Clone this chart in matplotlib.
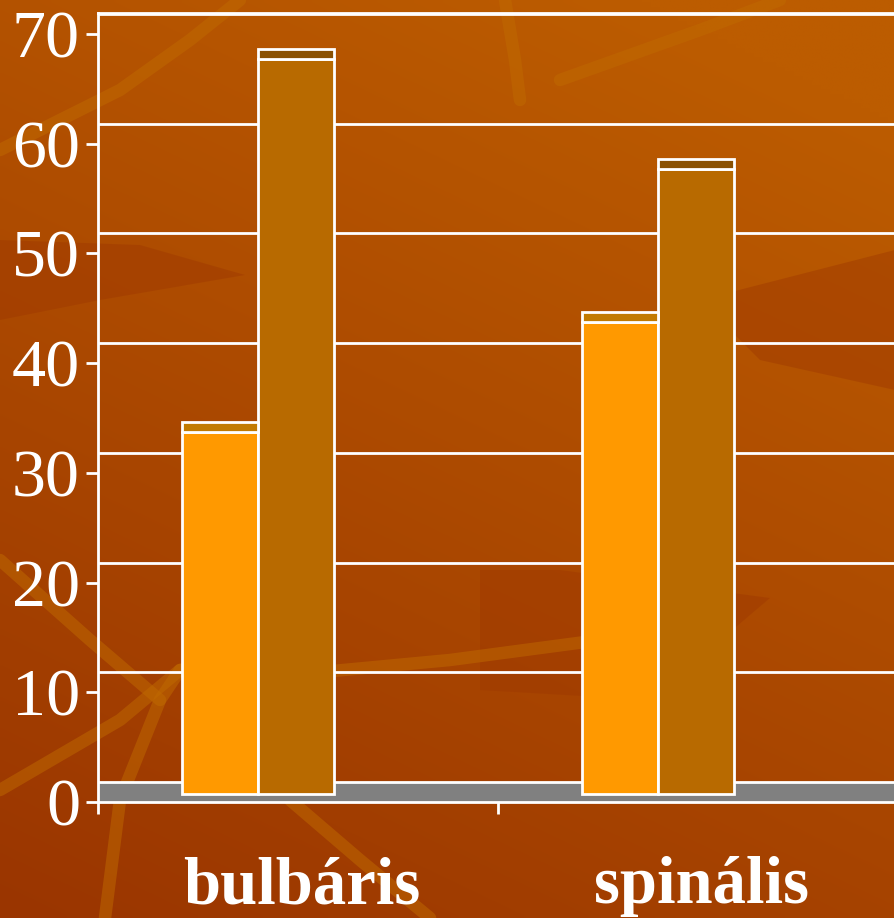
import matplotlib
matplotlib.use("Agg")
import matplotlib.pyplot as plt
import matplotlib.transforms as mtransforms
import numpy as np

# data
categories = ["bulbáris", "spinális"]
series_a = [33, 43]   # orange
series_b = [67, 57]   # brown
yticks = [0, 10, 20, 30, 40, 50, 60, 70]

ORANGE = "#ff9900"
BROWN = "#b86a00"
CAP_A = "#c27a00"
CAP_B = "#8a5000"
FLOOR = "#808080"

W, H = 895, 918
PPU = (802 - 34) / 70.0          # pixels per value unit
WALL_DY = 20                      # depth shift of the back wall (px)
BAR_DY = 8                        # depth shift of bar front faces (px)
CAP_PX = 10                       # visible bar top depth (px)

plt.rcParams["font.family"] = ["Liberation Serif", "DejaVu Serif"]

fig = plt.figure(figsize=(W / 100, H / 100), dpi=100)

# background: brownish orange gradient with a few soft streaks
bg = fig.add_axes([0, 0, 1, 1], zorder=0)
yy, xx = np.mgrid[0:1:200j, 0:1:200j]
t = np.clip(0.75 * yy + 0.35 * (1 - xx) - 0.1, 0, 1)
top = np.array([0xbc, 0x5c, 0x00]) / 255
bot = np.array([0x9a, 0x35, 0x00]) / 255
img = top[None, None, :] * (1 - t[..., None]) + bot[None, None, :] * t[..., None]
bg.imshow(img, extent=[0, W, H, 0], aspect="auto", interpolation="bilinear")
streaks = [
    [(0, 150), (120, 90), (190, 40), (240, 0)],
    [(505, 0), (515, 60), (520, 100)],
    [(560, 80), (700, 30), (780, 0)],
    [(0, 790), (120, 720), (180, 670), (290, 640)],
    [(105, 918), (120, 800), (160, 700), (180, 670)],
    [(290, 800), (360, 860), (430, 918)],
    [(290, 675), (450, 660), (600, 640)],
    [(0, 560), (90, 640), (160, 700)],
]
for s in streaks:
    xs, ys = zip(*s)
    bg.plot(xs, ys, color="#c06a00", lw=9, alpha=0.5, solid_capstyle="round")
darks = [
    [(0, 240), (140, 245), (245, 275), (100, 300), (0, 320)],
    [(480, 570), (560, 570), (770, 598), (650, 700), (480, 690)],
    [(700, 300), (895, 250), (895, 390), (760, 360)],
]
for d in darks:
    xs, ys = zip(*d)
    bg.fill(xs, ys, color="#9e3800", alpha=0.45, lw=0)
bg.set_xlim(0, W)
bg.set_ylim(H, 0)
bg.axis("off")

# chart axes
ax = fig.add_axes([98 / W, (H - 802) / H, 800 / W, (802 - 13) / H], zorder=1)
ax.patch.set_alpha(0)
ax.set_xlim(0, 2)
ax.set_ylim(0, (802 - 13) / PPU)


def shift(px):
    return ax.transData + mtransforms.ScaledTranslation(0, px / 100.0, fig.dpi_scale_trans)


# floor
ax.fill_between([0, 2], 0, WALL_DY / PPU, color=FLOOR, lw=0, zorder=1)

# back wall gridlines
for v in yticks:
    ax.plot([0, 2], [v, v], color="white", lw=2.0, transform=shift(WALL_DY), zorder=1.5,
            clip_on=False, solid_capstyle="butt")

# bars
x = np.arange(len(categories)) + 0.5
bw = 0.19
xa = x - 0.1 - bw / 2
xb = x - 0.1 + bw / 2
edge = dict(edgecolor="white", linewidth=2.0, zorder=3)
ax.bar(xa, series_a, width=bw, color=ORANGE, transform=shift(BAR_DY), **edge)
ax.bar(xb, series_b, width=bw, color=BROWN, transform=shift(BAR_DY), **edge)
cap = CAP_PX / PPU
ax.bar(xa, cap, bottom=series_a, width=bw, color=CAP_A, transform=shift(BAR_DY), **edge)
ax.bar(xb, cap, bottom=series_b, width=bw, color=CAP_B, transform=shift(BAR_DY), **edge)

# spines / ticks
ax.spines["right"].set_visible(False)
for side in ["left", "bottom", "top"]:
    ax.spines[side].set_color("white")
    ax.spines[side].set_linewidth(2.0)
ax.set_yticks(yticks)
ax.set_yticklabels([str(v) for v in yticks])
ax.tick_params(axis="y", colors="white", length=8.6, width=2.0, pad=4.3,
               labelsize=49)
ax.set_xticks([0, 1, 2])
ax.set_xticklabels([])
ax.tick_params(axis="x", colors="white", length=8.6, width=2.0)
for xi, lab in zip(x, categories):
    ax.text(xi + 0.01, -(903 - 802) / PPU, lab, ha="center", va="baseline",
            fontsize=48, fontweight="bold", color="white", clip_on=False)

fig.savefig("out.png", dpi=100)
